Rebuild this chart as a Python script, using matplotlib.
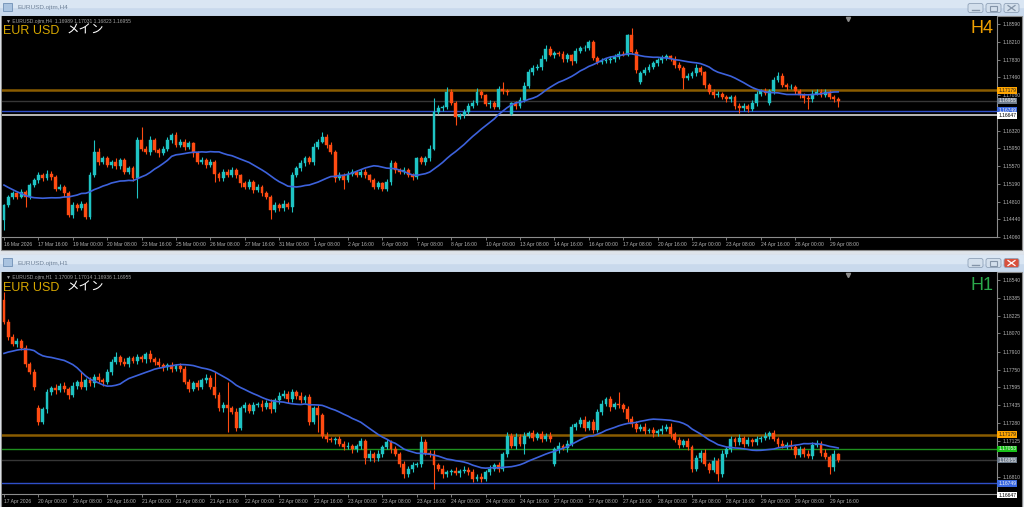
import numpy as np
import pandas as pd
import matplotlib.pyplot as plt
import matplotlib.transforms as mtransforms
from matplotlib.patches import Rectangle, FancyBboxPatch

# ---------------- H4 chart data ----------------
h4_labels = ['16 Mar 2026', '17 Mar 16:00', '19 Mar 00:00', '20 Mar 08:00', '23 Mar 16:00',
             '25 Mar 00:00', '26 Mar 08:00', '27 Mar 16:00', '31 Mar 00:00', '1 Apr 08:00',
             '2 Apr 16:00', '6 Apr 00:00', '7 Apr 08:00', '8 Apr 16:00', '10 Apr 00:00',
             '13 Apr 08:00', '14 Apr 16:00', '16 Apr 00:00', '17 Apr 08:00', '20 Apr 16:00',
             '22 Apr 00:00', '23 Apr 08:00', '24 Apr 16:00', '28 Apr 00:00', '29 Apr 08:00']
# price scale labels that are not hidden behind the line labels
h4_yticks = [1.18590, 1.18210, 1.17830, 1.17460, 1.17080, 1.16320,
             1.15950, 1.15570, 1.15190, 1.14810, 1.14440, 1.14060]
# closes of the 19 bars before the first visible one (feed the moving average)
h4_prior = [1.1594, 1.1587, 1.1584, 1.1580, 1.1577, 1.1573, 1.1562, 1.1552, 1.1541, 1.1531,
            1.1523, 1.1513, 1.1507, 1.1467, 1.1453, 1.1435, 1.1424, 1.1410, 1.1442]
h4_close = [
    1.1474, 1.1492, 1.1499, 1.1492, 1.1502, 1.1492, 1.1516, 1.1527, 1.1538, 1.1531,
    1.1541, 1.1534, 1.1509, 1.1513, 1.1499, 1.1453, 1.1474, 1.1467, 1.1477, 1.1449,
    1.1538, 1.1587, 1.1566, 1.1573, 1.1559, 1.1566, 1.1556, 1.1570, 1.1545, 1.1552,
    1.1531, 1.1612, 1.1594, 1.1587, 1.1612, 1.1591, 1.1584, 1.1594, 1.1612, 1.1623,
    1.1602, 1.1609, 1.1598, 1.1605, 1.1584, 1.1566, 1.1570, 1.1559, 1.1566, 1.1541,
    1.1531, 1.1545, 1.1538, 1.1548, 1.1538, 1.1520, 1.1513, 1.1523, 1.1506, 1.1513,
    1.1499, 1.1492, 1.1463, 1.1474, 1.1467, 1.1477, 1.1470, 1.1538, 1.1552, 1.1563,
    1.1573, 1.1566, 1.1598, 1.1609, 1.1619, 1.1602, 1.1587, 1.1531, 1.1538, 1.1527,
    1.1541, 1.1545, 1.1538, 1.1545, 1.1538, 1.1527, 1.1513, 1.1520, 1.1509, 1.1523,
    1.1563, 1.1548, 1.1545, 1.1548, 1.1538, 1.1534, 1.1573, 1.1566, 1.1573, 1.1594,
    1.1672, 1.1680, 1.1682, 1.1715, 1.1692, 1.1662, 1.1665, 1.1672, 1.1685, 1.1692,
    1.1714, 1.1707, 1.1688, 1.1692, 1.1683, 1.1721, 1.1716, 1.1714, 1.1690, 1.1685,
    1.1697, 1.1728, 1.1756, 1.1766, 1.1768, 1.1785, 1.1806, 1.1794, 1.1797, 1.1796,
    1.1784, 1.1792, 1.1780, 1.1802, 1.1807, 1.1809, 1.1820, 1.1786, 1.1779, 1.1780,
    1.1782, 1.1785, 1.1789, 1.1796, 1.1794, 1.1836, 1.1800, 1.1761, 1.1754, 1.1761,
    1.1768, 1.1775, 1.1782, 1.1786, 1.1790, 1.1785, 1.1772, 1.1766, 1.1745, 1.1749,
    1.1754, 1.1765, 1.1756, 1.1729, 1.1715, 1.1708, 1.1711, 1.1703, 1.1699, 1.1704,
    1.1685, 1.1680, 1.1685, 1.1678, 1.1690, 1.1711, 1.1716, 1.1712, 1.1716, 1.1740,
    1.1748, 1.1729, 1.1724, 1.1726, 1.1716, 1.1708, 1.1701, 1.1699, 1.1711, 1.1715,
    1.1709, 1.1714, 1.1704, 1.16989, 1.16955]
# weekend gap opens (bar index -> open)
h4_gaps = {118: 1.1667, 148: 1.1736, 178: 1.1692}
# wick lengths in pips above / below the body
h4_up = [3, 4, 5, 3, 6, 5, 4, 5, 6, 4, 7, 5, 4, 6, 3, 4, 6, 4, 5, 3,
         6, 25, 8, 5, 6, 4, 7, 5, 4, 6, 5, 7, 29, 6, 8, 5, 4, 6, 7, 5,
         7, 6, 5, 6, 4, 5, 6, 4, 5, 3, 4, 6, 5, 7, 4, 3, 5, 6, 4, 5,
         3, 4, 4, 6, 5, 7, 4, 6, 5, 6, 5, 6, 7, 5, 10, 7, 7, 4, 6, 5,
         6, 5, 4, 6, 5, 3, 4, 6, 4, 7, 7, 5, 4, 6, 4, 5, 4, 6, 5, 7,
         29, 6, 5, 9, 6, 4, 5, 6, 7, 5, 8, 5, 4, 6, 4, 7, 15, 5, 4, 5,
         6, 8, 7, 5, 6, 7, 8, 6, 5, 4, 5, 6, 4, 7, 6, 5, 5, 4, 5, 6,
         4, 5, 6, 5, 6, 1, 14, 5, 4, 6, 5, 6, 4, 7, 5, 4, 5, 6, 4, 5,
         6, 8, 5, 4, 5, 6, 5, 4, 6, 5, 4, 5, 6, 4, 7, 6, 5, 6, 4, 7,
         8, 6, 5, 6, 4, 5, 4, 6, 7, 5, 5, 6, 4, 5, 4]
h4_dn = [21, 4, 5, 6, 4, 22, 5, 4, 6, 5, 4, 6, 5, 4, 7, 5, 6, 5, 4, 4,
         5, 4, 6, 5, 4, 7, 5, 6, 5, 4, 6, 43, 5, 4, 6, 5, 7, 4, 5, 6,
         5, 4, 6, 5, 7, 4, 5, 6, 4, 18, 5, 6, 4, 5, 6, 7, 5, 4, 6, 5,
         6, 5, 18, 4, 6, 5, 4, 10, 5, 6, 5, 4, 6, 5, 4, 6, 5, 7, 4, 18,
         5, 6, 4, 5, 6, 5, 4, 5, 6, 5, 6, 5, 4, 6, 5, 7, 5, 4, 6, 5,
         4, 5, 6, 4, 5, 18, 5, 6, 4, 5, 6, 5, 4, 7, 5, 4, 6, 5, 2, 6,
         5, 4, 6, 5, 4, 6, 5, 4, 7, 5, 6, 5, 8, 4, 5, 6, 5, 4, 6, 5,
         4, 5, 6, 5, 4, 4, 5, 6, 5, 4, 5, 4, 6, 5, 4, 5, 6, 4, 24, 5,
         4, 6, 5, 7, 5, 6, 5, 4, 6, 5, 6, 11, 5, 7, 4, 5, 6, 4, 5, 6,
         4, 5, 6, 4, 5, 6, 9, 21, 5, 4, 6, 5, 4, 5, 13]

# ---------------- H1 chart data ----------------
h1_labels = ['17 Apr 2026', '20 Apr 00:00', '20 Apr 08:00', '20 Apr 16:00', '21 Apr 00:00',
             '21 Apr 08:00', '21 Apr 16:00', '22 Apr 00:00', '22 Apr 08:00', '22 Apr 16:00',
             '23 Apr 00:00', '23 Apr 08:00', '23 Apr 16:00', '24 Apr 00:00', '24 Apr 08:00',
             '24 Apr 16:00', '27 Apr 00:00', '27 Apr 08:00', '27 Apr 16:00', '28 Apr 00:00',
             '28 Apr 08:00', '28 Apr 16:00', '29 Apr 00:00', '29 Apr 08:00', '29 Apr 16:00']
h1_yticks = [1.18540, 1.18385, 1.18225, 1.18070, 1.17910, 1.17750, 1.17595,
             1.17435, 1.17280, 1.17125, 1.16810]
h1_prior = [1.1780, 1.1782, 1.1782, 1.1781, 1.1779, 1.1777, 1.1779, 1.1782, 1.1778, 1.1773,
            1.1770, 1.1774, 1.1776, 1.1779, 1.1788, 1.1799, 1.1820, 1.1835, 1.1836]
h1_close = [
    1.1817, 1.1804, 1.1798, 1.1800, 1.1794, 1.1780, 1.1773, 1.1760, 1.1729, 1.1740,
    1.1755, 1.1759, 1.1757, 1.1761, 1.1758, 1.1753, 1.1761, 1.1764, 1.1760, 1.1766,
    1.1763, 1.1769, 1.1766, 1.1764, 1.1773, 1.1782, 1.1786, 1.1782, 1.1780, 1.1785,
    1.1783, 1.1786, 1.1784, 1.1789, 1.1784, 1.1782, 1.1779, 1.1777, 1.1779, 1.1776,
    1.1778, 1.1776, 1.1764, 1.1758, 1.1763, 1.1760, 1.1766, 1.1768, 1.1760, 1.1753,
    1.1741, 1.1744, 1.1741, 1.1738, 1.1724, 1.1741, 1.1744, 1.1739, 1.1744, 1.1745,
    1.1742, 1.1746, 1.1740, 1.1748, 1.1752, 1.1754, 1.1749, 1.1755, 1.1752, 1.1748,
    1.1751, 1.1729, 1.1741, 1.1735, 1.1717, 1.1714, 1.1713, 1.1714, 1.1710, 1.1707,
    1.1708, 1.1705, 1.1708, 1.1712, 1.1697, 1.1701, 1.1697, 1.1701, 1.1707, 1.1711,
    1.1705, 1.1701, 1.1692, 1.1683, 1.1688, 1.1691, 1.1692, 1.1711, 1.1702, 1.1701,
    1.1691, 1.1688, 1.1683, 1.1685, 1.1686, 1.1684, 1.1686, 1.1687, 1.1685, 1.1679,
    1.1681, 1.1679, 1.1685, 1.1688, 1.1691, 1.1688, 1.1701, 1.1717, 1.1708, 1.1716,
    1.1710, 1.1717, 1.1719, 1.1715, 1.1718, 1.1714, 1.1717, 1.1714, 1.1705, 1.1708,
    1.1706, 1.1710, 1.1725, 1.1727, 1.1731, 1.1724, 1.1729, 1.1722, 1.1738, 1.1745,
    1.1749, 1.1742, 1.1745, 1.1744, 1.1740, 1.1732, 1.1727, 1.1723, 1.1725, 1.1721,
    1.1722, 1.1719, 1.1721, 1.1723, 1.1725, 1.1718, 1.1713, 1.1709, 1.1712, 1.1707,
    1.1688, 1.1697, 1.1702, 1.1692, 1.1687, 1.1695, 1.1683, 1.1701, 1.1705, 1.1714,
    1.1711, 1.1715, 1.1710, 1.1713, 1.1711, 1.1714, 1.1715, 1.1717, 1.1719, 1.1714,
    1.1710, 1.1708, 1.1709, 1.1707, 1.1700, 1.1705, 1.1701, 1.1699, 1.1709, 1.1710,
    1.1702, 1.1698, 1.1689, 1.17009, 1.16955]
h1_gaps = {8: 1.1741, 128: 1.1692}
h1_up = [7, 3, 2, 3, 2, 3, 2, 3, 3, 2, 3, 2, 3, 2, 3, 2, 3, 2, 9, 2,
         3, 2, 3, 2, 3, 2, 5, 2, 3, 2, 2, 3, 2, 2, 3, 2, 3, 2, 2, 3,
         2, 3, 2, 3, 2, 3, 2, 3, 2, 13, 2, 3, 20, 2, 3, 2, 3, 2, 3, 2,
         3, 2, 3, 2, 3, 3, 2, 3, 2, 3, 2, 3, 2, 3, 2, 3, 2, 2, 3, 2,
         3, 2, 2, 3, 2, 3, 2, 3, 2, 3, 2, 3, 2, 3, 2, 3, 2, 6, 3, 2,
         3, 2, 3, 2, 2, 3, 2, 3, 2, 3, 2, 3, 2, 3, 2, 3, 2, 3, 2, 3,
         2, 3, 2, 3, 2, 3, 2, 3, 2, 3, 2, 3, 2, 2, 2, 3, 2, 3, 2, 3,
         2, 3, 2, 10, 2, 3, 2, 3, 2, 3, 2, 3, 2, 3, 2, 3, 2, 3, 2, 3,
         2, 3, 2, 3, 2, 3, 2, 3, 2, 3, 2, 3, 2, 3, 2, 3, 2, 3, 2, 3,
         2, 3, 2, 4, 2, 3, 2, 3, 2, 3, 2, 3, 2, 3, 1]
h1_dn = [2, 3, 2, 3, 2, 3, 2, 3, 3, 2, 3, 2, 3, 2, 3, 4, 2, 3, 2, 3,
         2, 3, 2, 3, 2, 3, 2, 3, 2, 3, 2, 3, 2, 3, 2, 3, 2, 3, 2, 3,
         2, 3, 2, 3, 2, 3, 2, 3, 2, 3, 2, 3, 21, 2, 3, 2, 3, 2, 3, 2,
         3, 2, 3, 2, 3, 2, 3, 2, 3, 2, 2, 3, 2, 15, 2, 3, 2, 3, 2, 3,
         2, 3, 2, 3, 5, 2, 3, 2, 3, 2, 3, 2, 3, 3, 2, 3, 2, 3, 2, 3,
         21, 2, 3, 2, 3, 2, 3, 2, 3, 3, 2, 3, 2, 3, 2, 3, 2, 3, 2, 3,
         2, 9, 2, 3, 2, 3, 2, 3, 2, 3, 2, 3, 2, 3, 2, 3, 2, 3, 2, 3,
         2, 3, 2, 3, 2, 3, 2, 3, 2, 3, 2, 3, 2, 3, 2, 3, 2, 3, 2, 3,
         3, 2, 3, 2, 3, 2, 6, 2, 3, 2, 3, 2, 3, 2, 3, 2, 3, 2, 3, 2,
         3, 2, 3, 2, 3, 2, 3, 2, 3, 2, 3, 2, 6, 3, 2]

# horizontal lines: price, line colour, width, label box colour, label text colour
h4_lines = [(1.17179, '#8a5c00', 1.8, '#ffa500', '#202020'),
            (1.16955, '#363636', 1.0, '#6e7b8b', '#f0f0f0'),
            (1.16749, '#2f4fc8', 1.0, '#3a68e0', '#f0f0f0'),
            (1.16647, '#c8c8c8', 1.3, '#ffffff', '#000000')]
h1_lines = [(1.17179, '#8a5c00', 1.8, '#ffa500', '#202020'),
            (1.17053, '#1e8f1e', 1.0, '#18c018', '#f0f0f0'),
            (1.16955, '#363636', 1.0, '#6e7b8b', '#f0f0f0'),
            (1.16749, '#2f4fc8', 1.0, '#3a68e0', '#f0f0f0'),
            (1.16647, '#c8c8c8', 1.3, '#ffffff', '#000000')]

BULL = '#1fc4c4'
BEAR = '#ff4b12'
MA_COL = '#3d62dc'
W, H = 1024, 507
BAR_PX = 4.3

plt.rcParams['font.family'] = ['Liberation Sans', 'DejaVu Sans', 'Noto Sans CJK JP']


def ohlc(close, up, dn, prior, gaps):
    c = np.array(close)
    assert len(c) == len(up) == len(dn)
    o = np.r_[prior[-1], c[:-1]]
    for k, v in gaps.items():
        o[k] = v
    hi = np.maximum(o, c) + np.array(up) * 0.0001
    lo = np.minimum(o, c) - np.array(dn) * 0.0001
    ma = pd.Series(np.r_[prior, c]).rolling(20).mean().values[len(prior):]
    return o, hi, lo, c, ma


def pbox(x0, y0, x1, y1):
    return [x0 / W, 1 - y1 / H, (x1 - x0) / W, (y1 - y0) / H]


fig = plt.figure(figsize=(W / 100, H / 100), dpi=100)
bg = fig.add_axes([0, 0, 1, 1], zorder=0)
bg.set_xlim(0, W)
bg.set_ylim(H, 0)
bg.axis('off')
bg.add_patch(Rectangle((0, 0), W, H, color='#dfe4ea'))


def window(y0, y_black, y1, title, red):
    # title bar
    bg.add_patch(Rectangle((0, y0), W, y_black - y0, color='#c9d9ec'))
    bg.add_patch(Rectangle((0, y0), W, (y_black - y0) * 0.45, color='#dae6f3'))
    bg.add_patch(Rectangle((3, y0 + 3), 9, 8, fc='#a9c3e0', ec='#6f8fb5', lw=0.6))
    bg.text(17, y0 + 8, title, fontsize=4.6, color='#6d8097', va='center')
    # buttons
    for i, bx in enumerate([968, 986, 1004]):
        fc = '#d8503c' if (red and i == 2) else '#d3dfec'
        bg.add_patch(FancyBboxPatch((bx, y0 + 3.5), 15, 9, boxstyle='round,pad=0,rounding_size=2',
                                    fc=fc, ec='#90a2b8', lw=0.6))
    gl = '#ffffff' if red else '#8494a8'
    bg.plot([972, 979], [y0 + 10, y0 + 10], color='#8494a8', lw=1)
    bg.add_patch(Rectangle((990, y0 + 6), 7, 5, fc='none', ec='#8494a8', lw=0.8))
    bg.plot([1008, 1015], [y0 + 5.5, y0 + 10.5], color=gl, lw=0.9)
    bg.plot([1008, 1015], [y0 + 10.5, y0 + 5.5], color=gl, lw=0.9)
    # frame + black chart region
    bg.add_patch(Rectangle((1, y_black), W - 3, y1 - y_black, fc='black', ec='#8a8a8a', lw=0.8))


window(0, 16, 250, 'EURUSD.ojtm,H4', False)
window(255, 272, 508, 'EURUSD.ojtm,H1', True)


def chart(rect, data, ylim, yticks, labels, lines):
    o, h, l, c, ma = data
    ax = fig.add_axes(pbox(*rect), zorder=1)
    ax.set_facecolor('black')
    x = np.arange(len(c))
    col = np.where(c >= o, BULL, BEAR)
    for p, lc, lw, _, _ in lines:
        ax.axhline(p, color=lc, lw=lw, zorder=1)
    ax.vlines(x, l, h, colors=col, lw=0.8, zorder=2)
    ax.bar(x, np.abs(c - o), bottom=np.minimum(o, c), width=0.68, color=col,
           edgecolor=col, lw=0.3, zorder=3)
    ax.plot(x, ma, color=MA_COL, lw=1.2, zorder=4)
    left = (2 - 4) / BAR_PX
    ax.set_xlim(left, left + (rect[2] - rect[0]) / BAR_PX)
    ax.set_ylim(*ylim)
    ax.yaxis.tick_right()
    ax.set_yticks(yticks)
    ax.set_yticklabels([f'{v:.5f}' for v in yticks])
    ax.set_xticks(np.arange(0, 8 * len(labels), 8))
    ax.set_xticklabels(labels, ha='left')
    ax.tick_params(axis='both', colors='#8c8c8c', labelcolor='#b4b4b4', length=2.5,
                   width=0.6, labelsize=3.6, pad=1.2)
    for s in ['top', 'left']:
        ax.spines[s].set_visible(False)
    for s in ['right', 'bottom']:
        ax.spines[s].set_color('#8c8c8c')
        ax.spines[s].set_linewidth(0.8)
    tr = mtransforms.blended_transform_factory(ax.transAxes, ax.transData)
    for p, _, _, fc, tc in lines:
        ax.text(1.0012, p, f'{p:.5f}', transform=tr, fontsize=3.6, color=tc, va='center',
                ha='left', clip_on=False, zorder=6,
                bbox=dict(boxstyle='square,pad=0.15', fc=fc, ec='none'))
    return ax


h4 = ohlc(h4_close, h4_up, h4_dn, h4_prior, h4_gaps)
h1 = ohlc(h1_close, h1_up, h1_dn, h1_prior, h1_gaps)

chart((2, 16, 997, 237), h4, (1.14060, 1.18760), h4_yticks, h4_labels, h4_lines)
chart((2, 272, 997, 494), h1, (1.16656, 1.18610), h1_yticks, h1_labels, h1_lines)

# overlay texts
ov = fig.add_axes([0, 0, 1, 1], zorder=5)
ov.set_xlim(0, W)
ov.set_ylim(H, 0)
ov.axis('off')
ov.patch.set_visible(False)

heads = [(21, '\u25bc EURUSD.ojtm,H4  1.16989 1.17031 1.16823 1.16955', 34, 'H4', '#f0a000'),
         (277, '\u25bc EURUSD.ojtm,H1  1.17009 1.17014 1.16936 1.16955', 291, 'H1', '#2aa84a')]
for hy, htxt, base, tag, tcol in heads:
    ov.text(6, hy, htxt, fontsize=3.6, color='#a0a0a0', va='center')
    ov.text(3, base, 'EUR USD', fontsize=9, color='#d8a800', va='baseline')
    ov.text(67, base, 'メイン', fontsize=9, color='white', va='baseline',
            family=['Noto Sans CJK JP', 'DejaVu Sans'])
    ov.text(994, base - 1, tag, fontsize=13, color=tcol, va='baseline', ha='right')
    ov.plot(848, hy - 2, marker='v', color='#8c8c8c', ms=3)

fig.savefig('out.png', dpi=100, facecolor=fig.get_facecolor())
